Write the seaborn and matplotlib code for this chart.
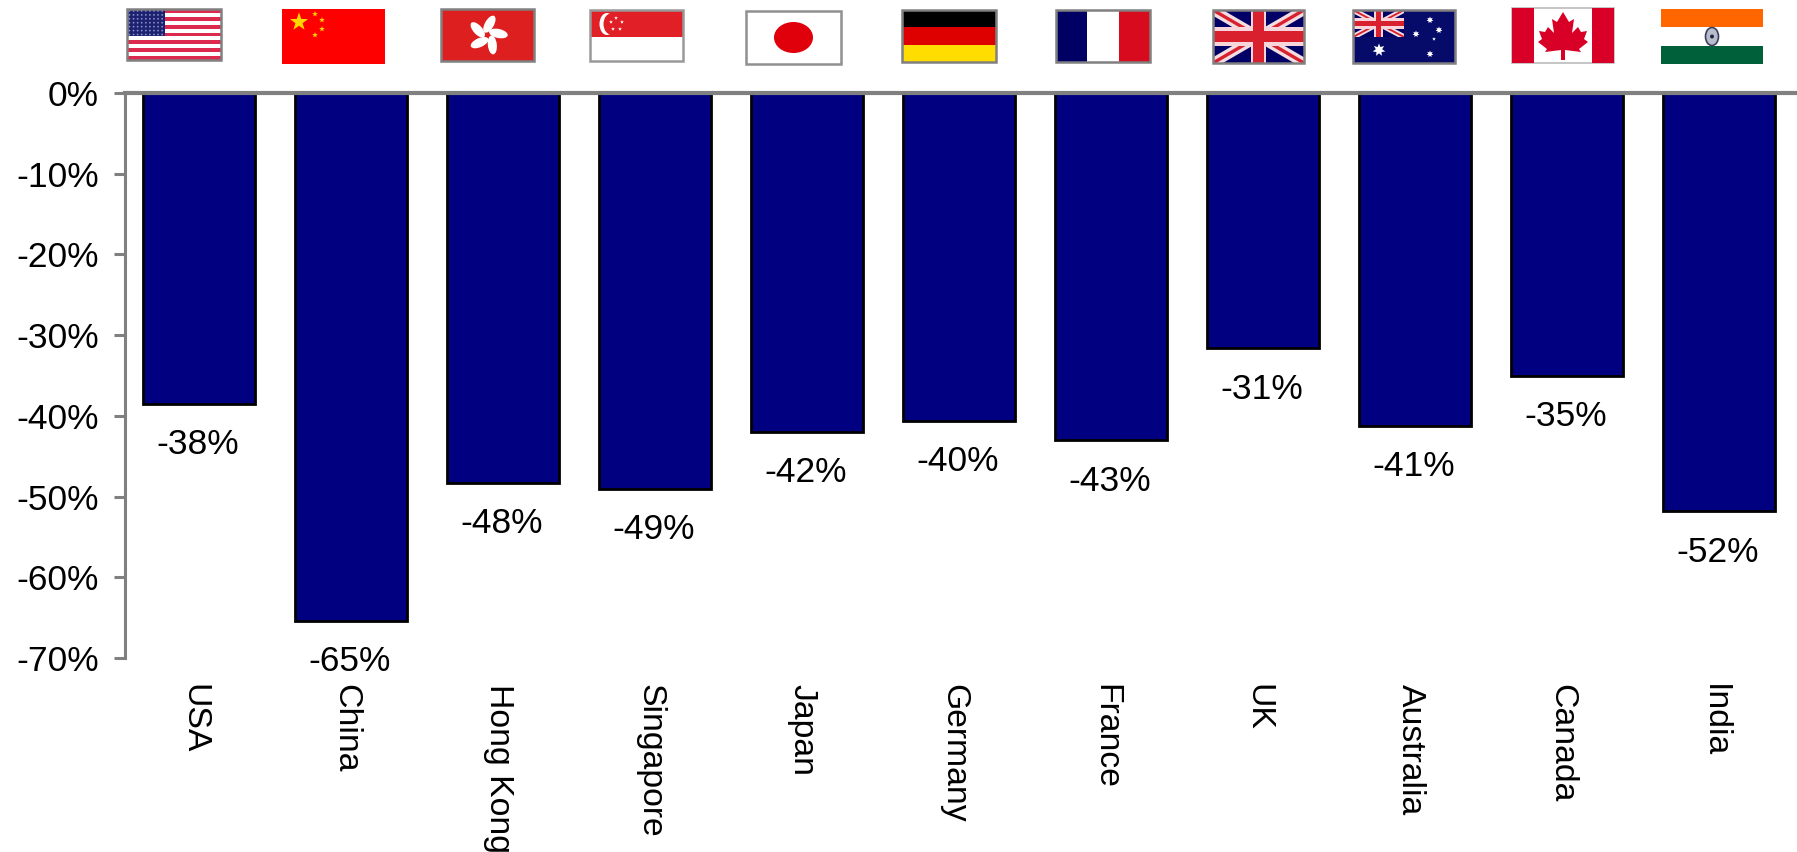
import numpy as np
import pandas as pd
import matplotlib
matplotlib.use("Agg")
import matplotlib.pyplot as plt
import matplotlib.transforms as mtransforms
import seaborn as sns
from matplotlib.patches import Rectangle, Ellipse, Polygon, Circle

W, H = 1797, 852

countries = ["USA", "China", "Hong Kong", "Singapore", "Japan", "Germany",
             "France", "UK", "Australia", "Canada", "India"]
values = [-38.5, -65.4, -48.3, -49.0, -42.0, -40.6, -43.0, -31.6, -41.2, -35.0, -51.8]
value_labels = ["-38%", "-65%", "-48%", "-49%", "-42%", "-40%", "-43%", "-31%", "-41%", "-35%", "-52%"]
y_ticks = [0, -10, -20, -30, -40, -50, -60, -70]

NAVY = "#000080"
GREY = "#808080"

sns.set_theme(style="white")
plt.rcParams["font.family"] = ["Liberation Sans", "DejaVu Sans"]

fig = plt.figure(figsize=(W / 100, H / 100), dpi=100)
ax = fig.add_axes([125 / W, 1 - 658 / H, (W - 125) / W, (658 - 93) / H])

df = pd.DataFrame({"country": countries, "value": values})
sns.barplot(data=df, x="country", y="value", color=NAVY, saturation=1,
            width=0.735, edgecolor="black", linewidth=2, ax=ax)

ax.set_xlim(-0.487, 10.513)
ax.set_ylim(-70, 0)
ax.set_xlabel("")
ax.set_ylabel("")
ax.set_yticks(y_ticks)
ax.set_yticklabels([f"{t}%" for t in y_ticks])
ax.tick_params(axis="y", length=8, width=2.2, color=GREY, pad=11, labelsize=25.5,
               left=True, labelcolor="black")
ax.tick_params(axis="x", length=0, pad=19, labelsize=24.3, labelcolor="black")
plt.setp(ax.get_xticklabels(), rotation=270, ha="center", va="top")
# les noms de pays sont un peu decales vers la gauche
shift = mtransforms.ScaledTranslation(-5 / 100, 0, fig.dpi_scale_trans)
for lab in ax.get_xticklabels():
    lab.set_transform(lab.get_transform() + shift)

for side in ["right", "bottom"]:
    ax.spines[side].set_visible(False)
ax.spines["top"].set_color(GREY)
ax.spines["top"].set_linewidth(3)
ax.spines["left"].set_color(GREY)
ax.spines["left"].set_linewidth(2.2)

for i, (v, lab) in enumerate(zip(values, value_labels)):
    ax.annotate(lab, xy=(i, v), xytext=(-1, -29.5), textcoords="offset points",
                ha="center", va="center", fontsize=25.5, color="black")

# -------------------------------------------------------------------
# Drapeaux, en coordonnees pixel sur un axe transparent
# -------------------------------------------------------------------
fx = fig.add_axes([0, 0, 1, 1], facecolor="none")
fx.set_xlim(0, W)
fx.set_ylim(H, 0)
fx.axis("off")


def box(x0, y0, x1, y1, color="white", border=None):
    r = Rectangle((x0, y0), x1 - x0, y1 - y0, facecolor=color, edgecolor="none", zorder=2)
    fx.add_patch(r)
    if border:
        fx.add_patch(Rectangle((x0, y0), x1 - x0, y1 - y0, facecolor="none",
                               edgecolor=border, linewidth=1.8, zorder=6))
    return r


def band(x0, y0, x1, y1, color, z=3):
    fx.add_patch(Rectangle((x0, y0), x1 - x0, y1 - y0, facecolor=color, edgecolor="none", zorder=z))


def star(cx, cy, r, color, n=5, inner=0.4, z=4):
    a = np.arange(2 * n) * np.pi / n - np.pi / 2
    rad = np.where(np.arange(2 * n) % 2 == 0, r, r * inner)
    fx.add_patch(Polygon(np.c_[cx + rad * np.cos(a), cy + rad * np.sin(a)],
                         facecolor=color, edgecolor="none", zorder=z))


def usa(x0, y0, x1, y1):
    box(x0, y0, x1, y1, "white", GREY)
    h = (y1 - y0) / 13
    for k in range(0, 13, 2):
        band(x0, y0 + k * h, x1, y0 + (k + 1) * h, "#DB2A4E")
    cw, ch = (x1 - x0) * 0.4, h * 7
    band(x0, y0, x0 + cw, y0 + ch, "#1C2170", 4)
    for r in range(7):
        for c in range(9):
            fx.add_patch(Circle((x0 + (c + .6) * cw / 9.2, y0 + (r + .5) * ch / 7), 0.9,
                                facecolor="#8C90C8", edgecolor="none", zorder=5))


def china(x0, y0, x1, y1):
    box(x0, y0, x1, y1, "#FF0000")
    star(x0 + 17, y0 + 13, 9.5, "#FFD700")
    for dx, dy in [(33, 5), (40, 11), (40, 20), (33, 26)]:
        star(x0 + dx, y0 + dy, 3, "#FFD700")


def hong_kong(x0, y0, x1, y1):
    box(x0, y0, x1, y1, "#DE1F1F", GREY)
    cx, cy = (x0 + x1) / 2, (y0 + y1) / 2
    for k in range(5):
        a = -90 + k * 72 + 10
        px = cx + 11 * np.cos(np.radians(a))
        py = cy + 11 * np.sin(np.radians(a))
        fx.add_patch(Ellipse((px, py), 19, 9, angle=a + 20, facecolor="white",
                             edgecolor="none", zorder=4))


def singapore(x0, y0, x1, y1):
    box(x0, y0, x1, y1, "white", "#999999")
    my = (y0 + y1) / 2 + 1
    band(x0, y0, x1, my, "#E01F26")
    fx.add_patch(Ellipse((x0 + 17, y0 + 14), 15, 22, facecolor="white", edgecolor="none", zorder=4))
    fx.add_patch(Ellipse((x0 + 21, y0 + 14), 15, 21, facecolor="#E01F26", edgecolor="none", zorder=4))
    for dx, dy in [(27, 8), (33, 12), (31, 19), (24, 19), (22, 12)]:
        star(x0 + dx - 1, y0 + dy, 2, "white", z=5)


def japan(x0, y0, x1, y1):
    box(x0, y0, x1, y1, "white", "#909090")
    fx.add_patch(Ellipse(((x0 + x1) / 2, (y0 + y1) / 2), 39, 31, facecolor="#E0000B",
                         edgecolor="none", zorder=4))


def germany(x0, y0, x1, y1):
    box(x0, y0, x1, y1, "white", GREY)
    h = (y1 - y0) / 3
    for k, c in enumerate(["#000000", "#DE0000", "#FFDD00"]):
        band(x0, y0 + k * h, x1, y0 + (k + 1) * h, c)


def france(x0, y0, x1, y1):
    box(x0, y0, x1, y1, "white", GREY)
    w = (x1 - x0) / 3
    band(x0, y0, x0 + w, y1, "#000064")
    band(x0 + 2 * w, y0, x1, y1, "#D80A1E")


def union_jack(x0, y0, x1, y1, clip, z=4):
    band(x0, y0, x1, y1, "#000066", z)
    w = x1 - x0
    s = w / 95
    for pts in [((x0, y0), (x1, y1)), ((x0, y1), (x1, y0))]:
        l, = fx.plot(*zip(*pts), color="#F4DDE0", lw=7.5 * s, zorder=z, solid_capstyle="butt")
        l.set_clip_path(clip)
        l, = fx.plot(*zip(*pts), color="#D8202E", lw=2.5 * s, zorder=z, solid_capstyle="butt")
        l.set_clip_path(clip)
    cx, cy = (x0 + x1) / 2, (y0 + y1) / 2
    t = 19 * s
    band(cx - t / 2 * 0.85, y0, cx + t / 2 * 0.85, y1, "#F7D5DA", z)
    band(x0, cy - t / 2, x1, cy + t / 2, "#F7D5DA", z)
    t = 11 * s
    band(cx - t / 2, y0, cx + t / 2, y1, "#D8202E", z)
    band(x0, cy - t / 2, x1, cy + t / 2, "#D8202E", z)


def uk(x0, y0, x1, y1):
    r = box(x0, y0, x1, y1, "#000066", GREY)
    union_jack(x0, y0, x1, y1, r)


def australia(x0, y0, x1, y1):
    box(x0, y0, x1, y1, "#060A68", GREY)
    cr = Rectangle((x0, y0), 51, 27, transform=fx.transData)
    union_jack(x0, y0, x0 + 51, y0 + 27, cr)
    star(x0 + 26, y0 + 40, 6.5, "white", n=7, inner=0.5)
    for dx, dy in [(77, 10), (63, 24), (86, 20), (77, 44)]:
        star(x0 + dx, y0 + dy, 3.5, "white", n=7, inner=0.5)
    star(x0 + 81, y0 + 29, 2, "white")


def canada(x0, y0, x1, y1):
    box(x0, y0, x1, y1, "white", None)
    fx.add_patch(Rectangle((x0, y0), x1 - x0, y1 - y0, facecolor="none",
                           edgecolor="#BBBBBB", linewidth=1.2, zorder=3))
    w = (x1 - x0)
    band(x0, y0, x0 + w * 0.22, y1, "#D80027", 4)
    band(x1 - w * 0.22, y0, x1, y1, "#D80027", 4)
    cx = (x0 + x1) / 2
    half = [(0, 4), (6, 14), (11, 11), (9, 25), (15, 19), (18, 24), (24, 23), (21, 31),
            (25, 34), (16, 41), (18, 44), (2, 42), (2, 52)]
    pts = [(cx + a, y0 + b) for a, b in half]
    pts += [(cx - a, y0 + b) for a, b in reversed(half) if a != 0]
    fx.add_patch(Polygon(pts, facecolor="#D80027", edgecolor="none", zorder=4))


def india(x0, y0, x1, y1):
    box(x0, y0, x1, y1, "white")
    h = (y1 - y0) / 3
    band(x0, y0, x1, y0 + h, "#FF6600")
    band(x0, y1 - h, x1, y1, "#006039")
    cx, cy = (x0 + x1) / 2, (y0 + y1) / 2
    fx.add_patch(Ellipse((cx, cy), 13, 18, facecolor="#B8BCCB", edgecolor="#3A4060",
                         linewidth=1.2, zorder=4))
    fx.add_patch(Circle((cx, cy), 2, facecolor="#20284C", edgecolor="none", zorder=5))


usa(127, 9, 221, 60)
china(282, 9, 385, 64)
hong_kong(441, 9, 534, 61)
singapore(590, 10, 683, 61)
japan(746, 11, 841, 64)
germany(902, 10, 996, 62)
france(1056, 10, 1150, 62)
uk(1213, 10, 1304, 63)
australia(1353, 10, 1455, 63)
canada(1512, 8, 1614, 63)
india(1661, 9, 1763, 64)

fig.savefig("out.png", dpi=100)
